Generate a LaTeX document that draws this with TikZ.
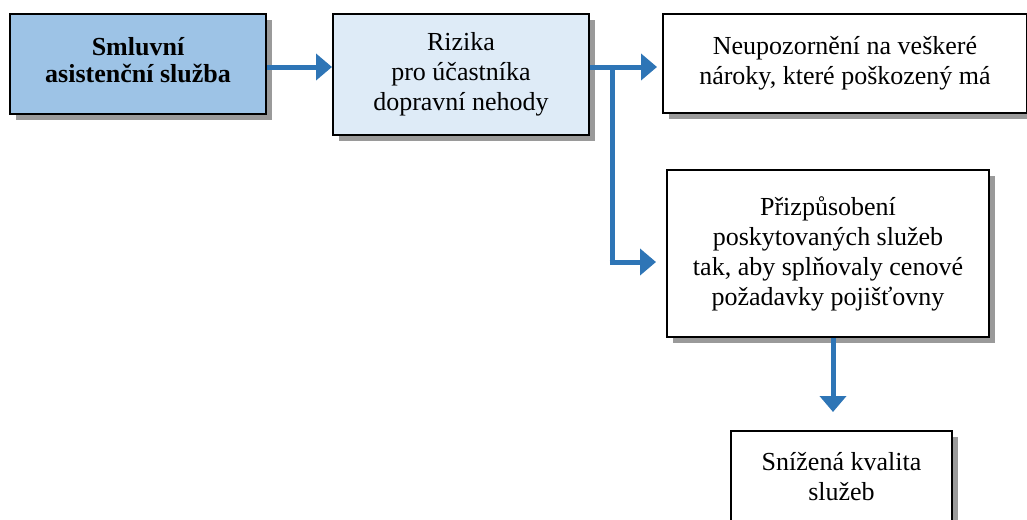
\documentclass[tikz,border=0pt]{standalone}
\usepackage{fontspec}
\setmainfont{Liberation Serif}
\usetikzlibrary{arrows.meta,shadows,positioning}
\definecolor{arrowblue}{HTML}{2E75B6}
\definecolor{darkfill}{HTML}{9DC3E6}
\definecolor{lightfill}{HTML}{DEEBF7}
\definecolor{shadowgray}{HTML}{9A9A9A}
\tikzset{
  box/.style={draw=black, line width=2pt, fill=white, align=center, inner sep=0pt,
    font=\fontsize{26}{30}\selectfont,
    drop shadow={shadow xshift=6pt, shadow yshift=-6pt, fill=shadowgray, opacity=1}},
  boldtext/.style={align=center, inner sep=0pt, font=\fontsize{26}{27.5}\selectfont\bfseries},
  conn/.style={draw=arrowblue, line width=5pt, -{Triangle[length=16pt,width=26pt]}},
  plain/.style={draw=arrowblue, line width=5pt}
}
\begin{document}
\begin{tikzpicture}[x=1pt,y=-1pt]
\useasboundingbox (0,0) rectangle (1027,519);
\node[box, fill=darkfill, minimum width=256pt, minimum height=100pt] (a) at (138,64) {};
\node[boldtext] (atext) at ([yshift=4pt]a.center) {Smluvní\\asistenční služba};
\node[box, fill=lightfill, minimum width=256pt, minimum height=121pt] (b) at (461,74.5) {Rizika\\pro účastníka\\dopravní nehody};
\node[box, minimum width=364pt, minimum height=99pt] (c) at (845,63.5) {Neupozornění na veškeré\\nároky, které poškozený má};
\node[box, minimum width=322pt, minimum height=167pt] (d) at (828,253.5) {Přizpůsobení\\poskytovaných služeb\\tak, aby splňovaly cenové\\požadavky pojišťovny};
\node[box, minimum width=221pt, minimum height=92pt] (e) at (841.5,477) {Snížená kvalita\\služeb};
\coordinate (tipc) at (657,67);
\coordinate (branch) at (612,67);
\coordinate (corner) at (612,262);
\coordinate (tipd) at (656,262);
\coordinate (tipe) at (833,412);
\draw[conn] (a.east |- 0,67) -- (b.west |- 0,67);
\draw[conn] (b.east |- tipc) -- (tipc);
\draw[plain] (branch) -- (corner);
\draw[conn] ([xshift=-2.5pt]corner) -- (tipd);
\draw[conn] (d.south -| tipe) -- (tipe);
\end{tikzpicture}
\end{document}
